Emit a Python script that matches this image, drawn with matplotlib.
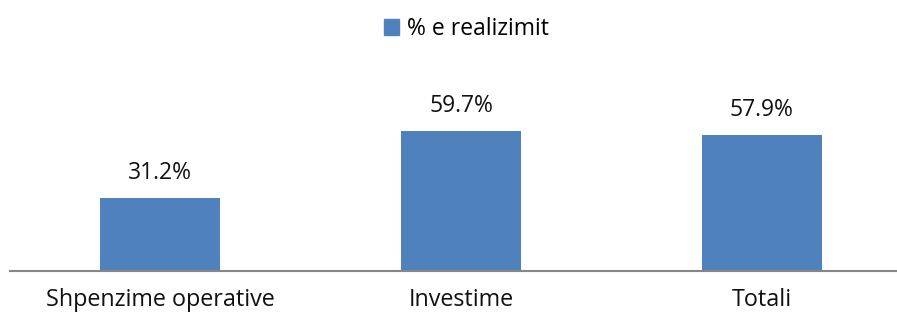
import matplotlib.pyplot as plt
from matplotlib.patches import Patch

categories = ['Shpenzime operative', 'Investime', 'Totali']
values = [31.2, 59.7, 57.9]
labels = ['31.2%', '59.7%', '57.9%']

plt.rcParams['font.family'] = ['Open Sans', 'DejaVu Sans']

fig = plt.figure(figsize=(8.97, 3.16), dpi=100)
# axes box in figure fractions; right edge runs past the image a bit
ax = fig.add_axes([10 / 897, 45 / 316, 902 / 897, 164 / 316])

color = '#4f81bd'
x = range(len(categories))
ax.bar(x, values, width=0.4, color=color)
for i, v in enumerate(values):
    ax.text(i, v + 5.5, labels[i], ha='center', va='bottom', fontsize=16.5, color='#111111')

ax.set_xlim(-0.5, 2.5)
ax.set_ylim(0, 70)
ax.set_xticks(list(x))
ax.set_xticklabels(categories, fontsize=16.8, color='#111111')
ax.tick_params(axis='x', length=0, pad=12)
ax.set_yticks([])
for s in ['top', 'right', 'left']:
    ax.spines[s].set_visible(False)
ax.spines['bottom'].set_color('#868686')
ax.spines['bottom'].set_linewidth(1.5)

fig.legend(handles=[Patch(color=color, label='% e realizimit')], loc='center',
           bbox_to_anchor=(466 / 897, 1 - 29 / 316), frameon=False, fontsize=16.5,
           handlelength=0.65, handleheight=0.65, handletextpad=0.35)

fig.savefig('out.png', dpi=100)
